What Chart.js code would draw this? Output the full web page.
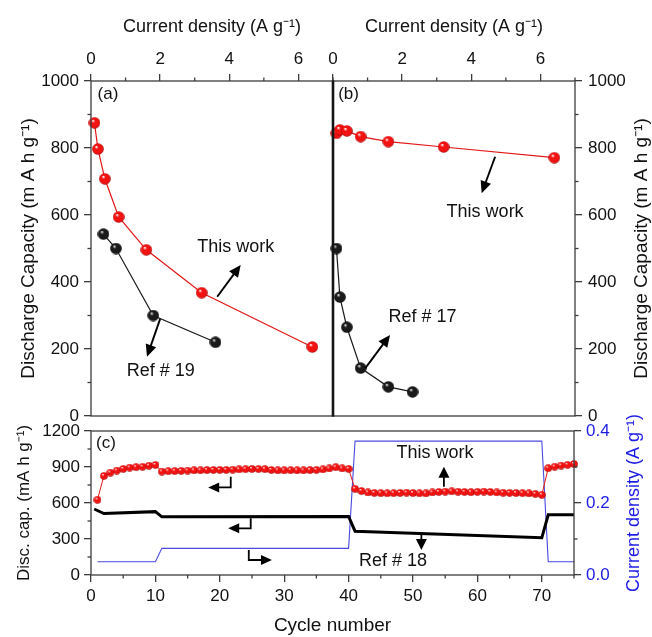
<!DOCTYPE html>
<html>
<head>
<meta charset="utf-8">
<title>Discharge capacity comparison</title>
<script src="https://cdn.jsdelivr.net/npm/chart.js@4.4.1/dist/chart.umd.min.js"></script>
<style>
  html, body { margin: 0; padding: 0; background: #ffffff; }
  #figure { position: relative; width: 652px; height: 637px; overflow: hidden; background: #fff; }
  #figure canvas { position: absolute; left: 0; top: 0; }
</style>
</head>
<body>
<div id="figure">
  <canvas id="panelA" width="652" height="637"></canvas>
  <canvas id="panelB" width="652" height="637"></canvas>
  <canvas id="panelC" width="652" height="637"></canvas>
</div>
<script>
// ---------- (a) rate capability, this work vs Ref #19 ----------
const rateThisWorkA = [0.1, 0.2, 0.4, 0.8, 1.6, 3.2, 6.4];
const capThisWorkA  = [875, 797, 708, 594, 496, 368, 206];
const rateRef19 = [0.36, 0.72, 1.8, 3.6];
const capRef19  = [543, 500, 300, 220];

// ---------- (b) rate capability, this work vs Ref #17 ----------
const rateThisWorkB = [0.1, 0.2, 0.4, 0.8, 1.6, 3.2, 6.4];
const capThisWorkB  = [844, 854, 851, 834, 819, 803, 771];
const rateRef17 = [0.1, 0.2, 0.4, 0.8, 1.6, 2.3];
const capRef17  = [500, 355, 265, 143, 87, 72];

// ---------- (c) cycling at stepped current, this work vs Ref #18 ----------
const cycleNumbers = [1, 2, 3, 4, 5, 6, 7, 8, 9, 10,
  11, 12, 13, 14, 15, 16, 17, 18, 19, 20, 21, 22, 23, 24, 25, 26, 27, 28, 29, 30,
  31, 32, 33, 34, 35, 36, 37, 38, 39, 40, 41, 42, 43, 44, 45, 46, 47, 48, 49, 50,
  51, 52, 53, 54, 55, 56, 57, 58, 59, 60, 61, 62, 63, 64, 65, 66, 67, 68, 69, 70,
  71, 72, 73, 74, 75];
const capThisWorkC = [627, 826, 853, 870, 884, 895, 898, 902, 911, 917,
  862, 865, 866, 868, 870, 872, 872, 874, 875, 876, 876, 878, 880, 882, 884, 883, 882, 875, 872, 872,
  873, 872, 872, 874, 876, 880, 888, 898, 888, 884,
  718, 700, 688, 684, 682, 681, 682, 684, 686, 683, 681, 680, 688, 692, 695, 697, 694, 692, 690, 693,
  695, 692, 688, 685, 684, 683, 682, 680, 676, 668,
  890, 903, 912, 918, 925];
const cycleRef18 = [0.5, 2, 10, 11, 40, 41, 70, 71, 75];
const capRef18   = [550, 512, 528, 485, 488, 365, 310, 502, 502];
const cycleCurrent   = [1, 10, 11, 40, 41, 70, 71, 75];
const currentDensity = [0.037, 0.037, 0.074, 0.074, 0.372, 0.372, 0.037, 0.037];

// ---------- tick values ----------
const rateTicks = [0, 2, 4, 6];
const rateMinorTicks = [1, 3, 5, 7];
const capTicks = [0, 200, 400, 600, 800, 1000];
const capMinorTicks = [100, 300, 500, 700, 900];
const cycleTicks = [0, 10, 20, 30, 40, 50, 60, 70];
const cycleMinorTicks = [5, 15, 25, 35, 45, 55, 65, 75];
const discTicks = [0, 300, 600, 900, 1200];
const discMinorTicks = [150, 450, 750, 1050];
const currentTicks = [0, 0.2, 0.4];
const currentMinorTicks = [0.1, 0.3];

// ---------- styling ----------
const FONT = "'Liberation Sans', Arial, Helvetica, sans-serif";
const FRAME = '#3c3c3c';
const TEXT = '#111111';
const BLUE_TEXT = '#1c1ce6';
const RED_LINE = '#e21616';
const BLUE_LINE = '#4a4ae2';

Chart.defaults.font.family = FONT;
Chart.defaults.color = TEXT;
Chart.defaults.animation = false;

const xy = (xs, ys) => xs.map((x, i) => ({ x: x, y: ys[i] }));

// shaded sphere used as point marker
function makeBall(d, base, edge, shine) {
  const c = document.createElement('canvas');
  c.width = d; c.height = d;
  const g = c.getContext('2d');
  const r = d / 2;
  const grad = g.createRadialGradient(r * 0.72, r * 0.62, r * 0.05, r, r, r);
  grad.addColorStop(0, shine);
  grad.addColorStop(0.28, base);
  grad.addColorStop(0.8, base);
  grad.addColorStop(1, edge);
  g.fillStyle = grad;
  g.beginPath();
  g.arc(r, r, r - 0.2, 0, Math.PI * 2);
  g.fill();
  return c;
}
const redBall = makeBall(12, '#f21212', '#8c0000', '#ffffff');
const blackBall = makeBall(12, '#1a1a1a', '#000000', '#e8e8e8');
const redBallSmall = makeBall(8, '#f21212', '#8c0000', '#ffffff');

function linAxis(pos, min, max, major, size, o) {
  o = o || {};
  const vertical = (pos === 'left' || pos === 'right');
  return {
    type: 'linear', position: pos, min: min, max: max,
    afterBuildTicks: s => { s.ticks = major.map(v => ({ value: v })); },
    afterFit: s => { if (vertical) s.width = size; else s.height = size; },
    border: { display: false },
    grid: { drawOnChartArea: false, drawTicks: true, tickLength: 7, color: FRAME, lineWidth: 1.3 },
    ticks: {
      autoSkip: false, maxRotation: 0, padding: o.pad !== undefined ? o.pad : 5,
      color: o.color || TEXT, font: { size: 17 },
      callback: o.fmt || (v => String(v))
    },
    title: o.title ? {
      display: true, text: o.title, color: o.titleColor || TEXT,
      font: { size: o.titleSize || 18 }, padding: o.titlePad || { top: 0, bottom: 0 }
    } : { display: false }
  };
}

// short minor ticks on the outside of each axis
const minorTickPlugin = {
  id: 'minorTicks',
  afterDraw(chart, args, o) {
    const ctx = chart.ctx;
    const len = o.length || 3.5;
    ctx.save();
    ctx.strokeStyle = FRAME;
    ctx.lineWidth = 1.3;
    (o.sets || []).forEach(([id, vals]) => {
      const s = chart.scales[id];
      vals.forEach(v => {
        const p = s.getPixelForValue(v);
        ctx.beginPath();
        if (s.position === 'top') { ctx.moveTo(p, s.bottom); ctx.lineTo(p, s.bottom - len); }
        else if (s.position === 'bottom') { ctx.moveTo(p, s.top); ctx.lineTo(p, s.top + len); }
        else if (s.position === 'left') { ctx.moveTo(s.right, p); ctx.lineTo(s.right - len, p); }
        else { ctx.moveTo(s.left, p); ctx.lineTo(s.left + len, p); }
        ctx.stroke();
      });
    });
    ctx.restore();
  }
};

// box around each plot area, with the heavy divider between (a) and (b)
const framePlugin = {
  id: 'frame',
  afterDatasetsDraw(chart, args, o) {
    const { left, right, top, bottom } = chart.chartArea;
    const ctx = chart.ctx;
    ctx.save();
    ctx.strokeStyle = FRAME;
    ctx.lineWidth = 1.3;
    ctx.strokeRect(left, top, right - left, bottom - top);
    if (o.divider) {
      ctx.strokeStyle = '#141414';
      ctx.lineWidth = 2.6;
      ctx.beginPath();
      ctx.moveTo(left, top - 0.6);
      ctx.lineTo(left, bottom + 0.6);
      ctx.stroke();
    }
    ctx.restore();
  }
};

function drawArrow(ctx, pts, head, hw) {
  const n = pts.length;
  const [x2, y2] = pts[n - 1];
  const [x1, y1] = pts[n - 2];
  const a = Math.atan2(y2 - y1, x2 - x1);
  const ca = Math.cos(a), sa = Math.sin(a);
  ctx.beginPath();
  ctx.moveTo(pts[0][0], pts[0][1]);
  for (let i = 1; i < n - 1; i++) ctx.lineTo(pts[i][0], pts[i][1]);
  ctx.lineTo(x2 - ca * head * 0.8, y2 - sa * head * 0.8);
  ctx.stroke();
  ctx.beginPath();
  ctx.moveTo(x2, y2);
  ctx.lineTo(x2 - ca * head - sa * hw, y2 - sa * head + ca * hw);
  ctx.lineTo(x2 - ca * head + sa * hw, y2 - sa * head - ca * hw);
  ctx.closePath();
  ctx.fill();
}

// panel letters, series labels and pointer arrows, placed in data units
const notesPlugin = {
  id: 'notes',
  afterDatasetsDraw(chart, args, o) {
    const xs = chart.scales[o.xAxis], ys = chart.scales[o.yAxis];
    const px = v => xs.getPixelForValue(v), py = v => ys.getPixelForValue(v);
    const ctx = chart.ctx;
    ctx.save();
    (o.labels || []).forEach(l => {
      ctx.font = (l.size || 18) + 'px ' + FONT;
      ctx.fillStyle = l.color || TEXT;
      ctx.textAlign = l.align || 'center';
      ctx.textBaseline = 'middle';
      ctx.fillText(l.text, px(l.x), py(l.y));
    });
    (o.arrows || []).forEach(a => {
      ctx.strokeStyle = '#000';
      ctx.fillStyle = '#000';
      ctx.lineWidth = a.width || 1.9;
      ctx.lineJoin = 'miter';
      drawArrow(ctx, a.path.map(([x, y]) => [px(x), py(y)]), a.head || 12, a.half || 5.5);
    });
    ctx.restore();
  }
};

// axis title on a right-hand axis, reading bottom to top
const sideTitlePlugin = {
  id: 'sideTitle',
  afterDraw(chart, args, o) {
    if (!o.text) return;
    const s = chart.scales[o.scale];
    const ctx = chart.ctx;
    ctx.save();
    ctx.translate(s.right - o.offset, (s.top + s.bottom) / 2);
    ctx.rotate(-Math.PI / 2);
    ctx.font = (o.size || 18) + 'px ' + FONT;
    ctx.fillStyle = o.color || TEXT;
    ctx.textAlign = 'center';
    ctx.textBaseline = 'middle';
    ctx.fillText(o.text, 0, 0);
    ctx.restore();
  }
};

const common = { responsive: false, devicePixelRatio: 1, animation: false, events: [] };
const plugs = [minorTickPlugin, framePlugin, notesPlugin, sideTitlePlugin];

// ---------- panel (a) ----------
new Chart(document.getElementById('panelA'), {
  type: 'scatter',
  data: { datasets: [
    { data: xy(rateThisWorkA, capThisWorkA), showLine: true, borderColor: RED_LINE, borderWidth: 1.2,
      pointStyle: redBall, pointRadius: 6, clip: false },
    { data: xy(rateRef19, capRef19), showLine: true, borderColor: '#1a1a1a', borderWidth: 1.2,
      pointStyle: blackBall, pointRadius: 6, clip: false }
  ] },
  options: Object.assign({}, common, {
    layout: { padding: { left: 0, top: 0, right: 319, bottom: 221 } },
    scales: {
      x: linAxis('top', 0, 7, rateTicks, 81, { pad: 4, title: 'Current density (A g⁻¹)', titlePad: { top: 16, bottom: 0 } }),
      y: linAxis('left', 0, 1000, capTicks, 91, { pad: 5, title: 'Discharge Capacity (m A h g⁻¹)', titleSize: 19, titlePad: { top: 17.5, bottom: 0 } })
    },
    plugins: {
      legend: { display: false }, tooltip: { enabled: false },
      minorTicks: { sets: [['x', rateMinorTicks], ['y', capMinorTicks]] },
      frame: { divider: false },
      notes: {
        xAxis: 'x', yAxis: 'y',
        labels: [
          { text: '(a)', x: 0.19, y: 960, align: 'left', size: 17 },
          { text: 'This work', x: 4.19, y: 505 },
          { text: 'Ref # 19', x: 2.02, y: 135 }
        ],
        arrows: [
          { path: [[3.65, 356], [4.33, 451]] },
          { path: [[2.0, 290], [1.62, 177]] }
        ]
      },
      sideTitle: {}
    }
  }),
  plugins: plugs
});

// ---------- panel (b) ----------
new Chart(document.getElementById('panelB'), {
  type: 'scatter',
  data: { datasets: [
    { data: xy(rateThisWorkB, capThisWorkB), showLine: true, borderColor: RED_LINE, borderWidth: 1.2,
      pointStyle: redBall, pointRadius: 6, clip: false },
    { data: xy(rateRef17, capRef17), showLine: true, borderColor: '#1a1a1a', borderWidth: 1.2,
      pointStyle: blackBall, pointRadius: 6, clip: false }
  ] },
  options: Object.assign({}, common, {
    layout: { padding: { left: 333, top: 0, right: 0, bottom: 221 } },
    scales: {
      x: linAxis('top', 0, 7, rateTicks, 81, { pad: 4, title: 'Current density (A g⁻¹)', titlePad: { top: 16, bottom: 0 } }),
      y: linAxis('right', 0, 1000, capTicks, 77, { pad: 6 })
    },
    plugins: {
      legend: { display: false }, tooltip: { enabled: false },
      minorTicks: { sets: [['x', rateMinorTicks], ['y', capMinorTicks]] },
      frame: { divider: true },
      notes: {
        xAxis: 'x', yAxis: 'y',
        labels: [
          { text: '(b)', x: 0.15, y: 960, align: 'left', size: 17 },
          { text: 'This work', x: 4.40, y: 610 },
          { text: 'Ref # 17', x: 2.59, y: 295 }
        ],
        arrows: [
          { path: [[4.69, 774], [4.30, 665]] },
          { path: [[0.93, 142], [1.65, 242]] }
        ]
      },
      sideTitle: { text: 'Discharge Capacity (m A h g⁻¹)', scale: 'y', offset: 10, size: 19 }
    }
  }),
  plugins: plugs
});

// ---------- panel (c) ----------
new Chart(document.getElementById('panelC'), {
  type: 'scatter',
  data: { datasets: [
    { data: xy(cycleNumbers, capThisWorkC), showLine: true, borderColor: RED_LINE, borderWidth: 1,
      pointStyle: redBallSmall, pointRadius: 4, clip: false, yAxisID: 'y' },
    { data: xy(cycleRef18, capRef18), showLine: true, borderColor: '#000000', borderWidth: 3,
      pointRadius: 0, clip: false, yAxisID: 'y' },
    { data: xy(cycleCurrent, currentDensity), showLine: true, borderColor: BLUE_LINE, borderWidth: 1.1,
      pointRadius: 0, clip: false, yAxisID: 'y2' }
  ] },
  options: Object.assign({}, common, {
    layout: { padding: { left: 0, top: 431, right: 0, bottom: 0 } },
    scales: {
      x: linAxis('bottom', 0, 75, cycleTicks, 62, { pad: 4, title: 'Cycle number', titleSize: 19, titlePad: { top: 0, bottom: 0 } }),
      y: linAxis('left', 0, 1200, discTicks, 91, { pad: 4, title: 'Disc. cap. (mA h g⁻¹)', titleSize: 17, titlePad: { top: 14, bottom: 0 } }),
      y2: linAxis('right', 0, 0.4, currentTicks, 78, { pad: 5, color: BLUE_TEXT, fmt: v => Number(v).toFixed(1) })
    },
    plugins: {
      legend: { display: false }, tooltip: { enabled: false },
      minorTicks: { sets: [['x', cycleMinorTicks], ['y', discMinorTicks], ['y2', currentMinorTicks]] },
      frame: { divider: false },
      notes: {
        xAxis: 'x', yAxis: 'y',
        labels: [
          { text: '(c)', x: 0.78, y: 1097, align: 'left', size: 17 },
          { text: 'This work', x: 53.4, y: 1014 },
          { text: 'Ref # 18', x: 46.9, y: 119 }
        ],
        arrows: [
          { path: [[21.7, 819], [21.7, 730], [18.2, 730]], head: 11, half: 5, width: 1.8 },
          { path: [[24.8, 472], [24.8, 389], [21.3, 389]], head: 11, half: 5, width: 1.8 },
          { path: [[24.5, 208], [24.5, 125], [28.1, 125]], head: 11, half: 5, width: 1.8 },
          { path: [[54.8, 736], [54.8, 903]], head: 11, half: 5.5, width: 1.8 },
          { path: [[51.3, 339], [51.3, 208]], head: 11, half: 5.5, width: 1.8 }
        ]
      },
      sideTitle: { text: 'Current density (A g⁻¹)', scale: 'y2', offset: 18, size: 18, color: BLUE_TEXT }
    }
  }),
  plugins: plugs
});
</script>
</body>
</html>
